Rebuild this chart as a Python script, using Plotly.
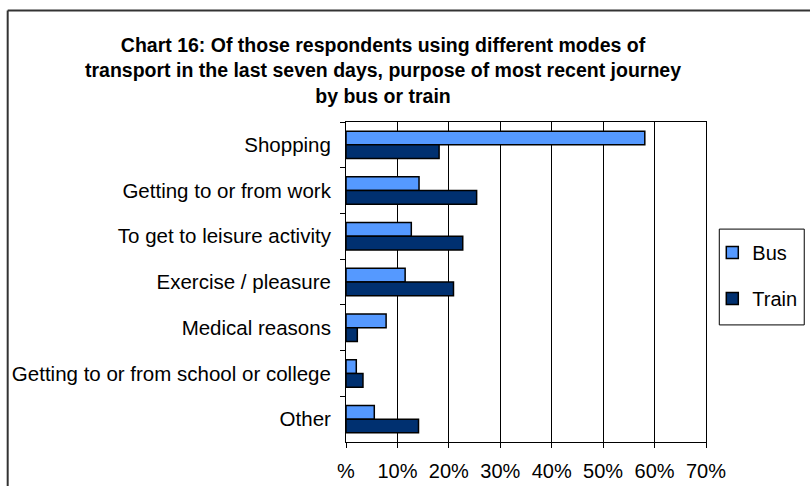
import plotly.graph_objects as go

categories = [
    "Shopping",
    "Getting to or from work",
    "To get to leisure activity",
    "Exercise / pleasure",
    "Medical reasons",
    "Getting to or from school or college",
    "Other",
]
bus = [58.1, 14.2, 12.7, 11.5, 7.8, 2.0, 5.5]
train = [18.1, 25.4, 22.7, 20.9, 2.2, 3.3, 14.1]
tick_values = [0, 10, 20, 30, 40, 50, 60, 70]
tick_labels = ["%", "10%", "20%", "30%", "40%", "50%", "60%", "70%"]
title_text = ("Chart 16: Of those respondents using different modes of<br>"
              "transport in the last seven days, purpose of most recent journey<br>"
              "by bus or train")

FONT = "Liberation Sans, Arial, sans-serif"
W, H = 810, 486
L, R, T, B = 345.5, 104.3, 121.7, 43.7
pw, ph = W - L - R, H - T - B

fig = go.Figure()
fig.add_trace(go.Bar(
    y=categories, x=bus, name="Bus", orientation="h",
    marker=dict(color="#5599ff", line=dict(color="#000000", width=1.5)),
    legendgroup="a",
))
fig.add_trace(go.Bar(
    y=categories, x=train, name="Train", orientation="h",
    marker=dict(color="#003070", line=dict(color="#000000", width=1.5)),
    legendgroup="b",
))

def px_x(x):
    return (x - L) / pw

def px_y(y):
    return (H - B - y) / ph

fig.update_layout(
    width=W, height=H,
    margin=dict(l=L, r=R, t=T, b=B, autoexpand=False),
    paper_bgcolor="white", plot_bgcolor="white",
    barmode="group", bargap=0.4, bargroupgap=0,
    font=dict(family=FONT, size=20, color="#000000"),
    title=dict(text=title_text, x=383 / W, xanchor="center", y=1 - 52 / H, yanchor="middle",
               font=dict(family=FONT, size=19.5, color="#000000", weight="bold")),
    showlegend=True,
    legend=dict(x=px_x(712), y=px_y(233), xanchor="left", yanchor="top",
                borderwidth=0, bgcolor="rgba(0,0,0,0)",
                traceorder="grouped", tracegroupgap=17, itemwidth=30,
                font=dict(family=FONT, size=20)),
    xaxis=dict(range=[0, 70], tickvals=tick_values, ticktext=tick_labels,
               showgrid=True, gridcolor="#000000", gridwidth=1,
               showline=True, linecolor="#000000", linewidth=1, mirror=True,
               ticks="outside", ticklen=5, tickcolor="#000000",
               ticklabelstandoff=6,
               zeroline=False, tickfont=dict(size=20)),
    yaxis=dict(autorange="reversed", showline=True, linecolor="#000000", linewidth=1,
               mirror=True, ticks="outside", tickson="boundaries", ticklen=5,
               ticklabelstandoff=10,
               tickcolor="#000000", showgrid=False, tickfont=dict(size=20.5)),
    shapes=[
        dict(type="line", xref="paper", yref="paper", x0=px_x(7), x1=px_x(900),
             y0=px_y(10), y1=px_y(10), line=dict(color="#333333", width=2)),
        dict(type="line", xref="paper", yref="paper", x0=px_x(7), x1=px_x(7),
             y0=px_y(10), y1=px_y(600), line=dict(color="#333333", width=2)),
        dict(type="rect", xref="paper", yref="paper", x0=px_x(719), x1=px_x(804),
             y0=px_y(325), y1=px_y(229), line=dict(color="#000000", width=1),
             fillcolor="rgba(0,0,0,0)", layer="below"),
    ],
)

fig.write_html("out.html", config={"displayModeBar": False},
               post_script="document.body.style.margin='0';")
